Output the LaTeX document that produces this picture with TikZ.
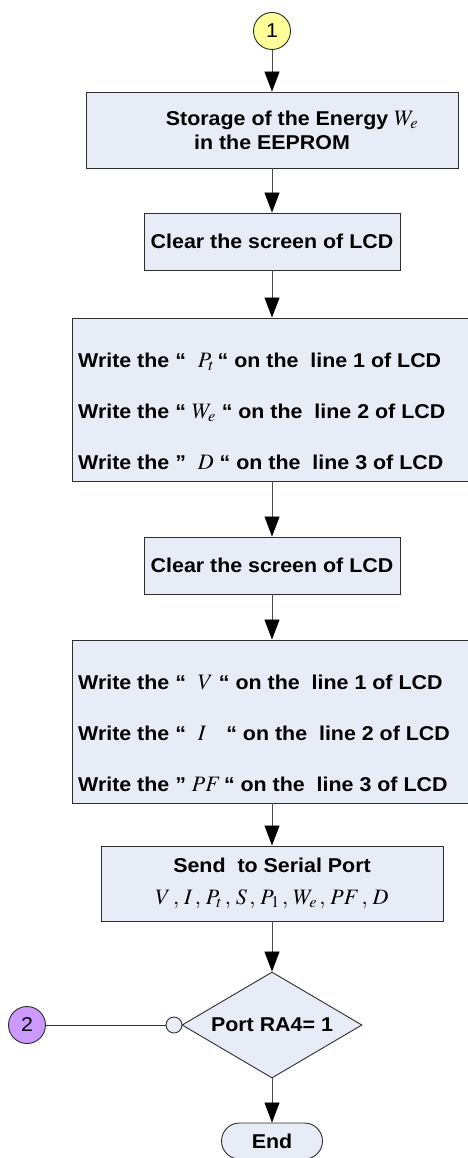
\documentclass[tikz,border=0pt]{standalone}
\usepackage{mathptmx}
\usepackage[no-math]{fontspec}
\setmainfont[FakeStretch=1.07]{Liberation Sans}
\usetikzlibrary{arrows.meta,shapes.geometric,shapes.misc}
\definecolor{flowfill}{RGB}{231,236,247}
\definecolor{flowline}{RGB}{45,45,45}
\definecolor{connyellow}{RGB}{255,255,153}
\definecolor{connpurple}{RGB}{204,153,255}
\newcommand{\flowmath}[1]{{\fontsize{22}{24}\selectfont$#1$}}
\tikzset{
  flowbox/.style={rectangle,fill=flowfill,draw=flowline,line width=0.9pt,inner sep=0pt},
  flowtext/.style={anchor=west,align=left,inner sep=0pt},
  flowarrow/.style={-{Triangle[width=15pt,length=20pt,color=black]},draw=black!70,line width=0.8pt},
  flowconn/.style={circle,draw=flowline,line width=0.9pt,minimum size=37pt,inner sep=0pt,
    font=\fontsize{20}{24}\selectfont\mdseries},
  flowdecide/.style={diamond,aspect=1.7,fill=flowfill,draw=flowline,line width=0.9pt,inner sep=0pt},
  every picture/.style={font=\fontsize{20}{24}\selectfont\bfseries}
}

\begin{document}
\begin{tikzpicture}[x=1pt,y=-1pt]
  \useasboundingbox (0,0) rectangle (468,1158);
  \node[flowconn,fill=connyellow] (start1) at (272,31) {1};
  \node[flowbox,minimum width=372pt,minimum height=76pt,align=center] (store) at (272,130)
    {\hspace*{40pt}Storage of the Energy\ \flowmath{W_e}\\in the EEPROM};
  \node[flowbox,minimum width=256pt,minimum height=57pt] (clr1) at (272,241.5)
    {Clear the screen of LCD};
  % first group of LCD lines
  \node[flowbox,minimum width=400pt,minimum height=163pt] (lcd1) at (272,399.5) {};
  \node[flowtext] (lcd1txt) at (78,411)
    {Write the “\ \ \flowmath{P_t}\,“ on the\ \ line 1 of LCD\\[27pt]
     Write the “\ \flowmath{W_e} “ on the\ \ line 2 of LCD\\[27pt]
     Write the ”\ \ \flowmath{D} “ on the\ \ line 3 of LCD};
  \node[flowbox,minimum width=256pt,minimum height=57pt] (clr2) at (272,565.5)
    {Clear the screen of LCD};
  % second group of LCD lines
  \node[flowbox,minimum width=400pt,minimum height=163pt] (lcd2) at (272,721.5) {};
  \node[flowtext] (lcd2txt) at (78,733)
    {Write the “\ \ \flowmath{V} “ on the\ \ line 1 of LCD\\[27pt]
     Write the “\ \ \flowmath{I}\quad “ on the\ \ line 2 of LCD\\[27pt]
     Write the ” \flowmath{PF}\,“ on the\ \ line 3 of LCD};
  \node[flowbox,minimum width=342pt,minimum height=75pt,align=center] (serial) at (272,883.5)
    {Send\ \ to Serial Port\\[8pt]
     \flowmath{V\,,\,I\,,\,P_t\,,\,S\,,\,P_1\,,\,W_e\,,\,PF\,,\,D}};
  \node[flowdecide,minimum width=180pt,minimum height=106pt] (port) at (272,1025) {Port RA4= 1};
  \node[circle,fill=flowfill,draw=flowline,line width=0.9pt,minimum size=16pt,inner sep=0pt]
    (portdot) at (174,1025) {};
  \node[flowconn,fill=connpurple] (conn2) at (27,1025) {2};
  \node[flowbox,rounded rectangle,minimum width=101pt,minimum height=36pt] (stop) at (272,1141) {End};

  \draw[flowarrow] (start1) -- (store);
  \draw[flowarrow] (store) -- (clr1);
  \draw[flowarrow] (clr1) -- (lcd1);
  \draw[flowarrow] (lcd1) -- (clr2);
  \draw[flowarrow] (clr2) -- (lcd2);
  \draw[flowarrow] (lcd2) -- (serial);
  \draw[flowarrow] (serial) -- (port);
  \draw[flowarrow] (port) -- (stop);
  \draw[draw=flowline,line width=0.8pt] (conn2) -- (portdot);
\end{tikzpicture}
\end{document}
